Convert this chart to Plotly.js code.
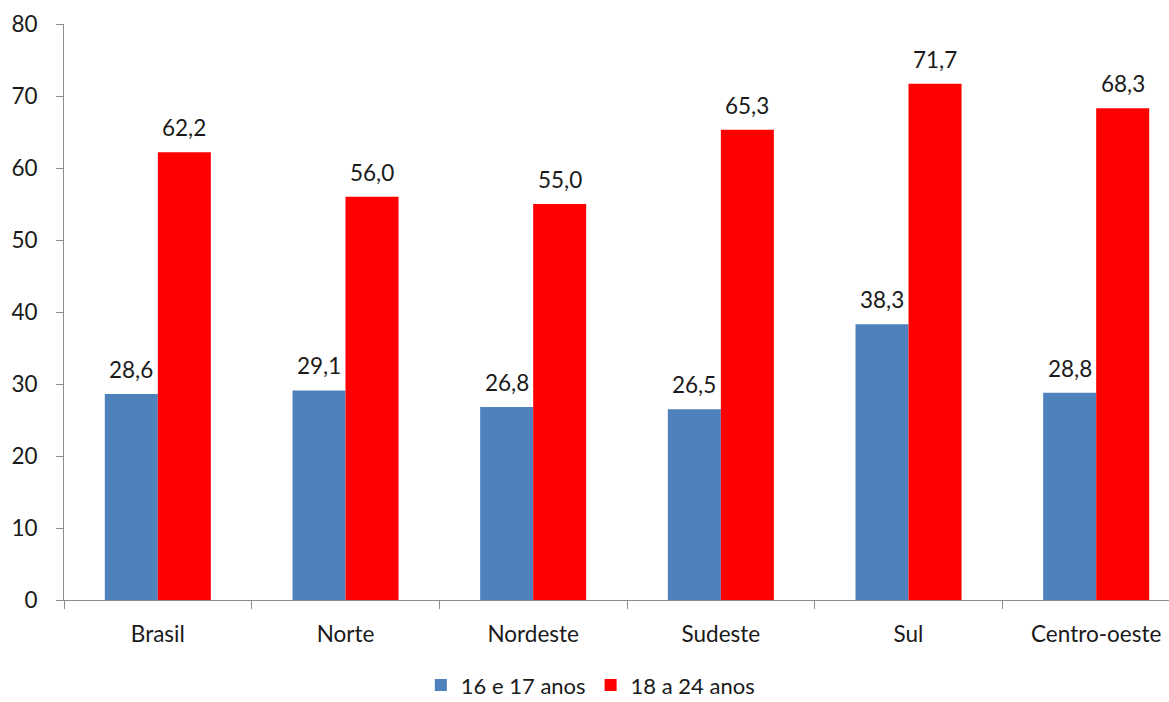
<!DOCTYPE html>
<html>
<head>
<meta charset="utf-8">
<script src="https://cdn.plot.ly/plotly-3.0.1.min.js"></script>
<style>html,body{margin:0;padding:0;background:#fff;}#chart{width:1169px;height:702px;}</style>
</head>
<body>
<div id="chart"></div>
<script>
const categories = ["Brasil", "Norte", "Nordeste", "Sudeste", "Sul", "Centro-oeste"];
const series16a17 = [28.6, 29.1, 26.8, 26.5, 38.3, 28.8];
const series18a24 = [62.2, 56.0, 55.0, 65.3, 71.7, 68.3];
const seriesNames = ["16 e 17 anos", "18 a 24 anos"];
const yTicks = [0, 10, 20, 30, 40, 50, 60, 70, 80];

const FONT = "Lato, 'Open Sans', sans-serif";
const FS = 22.5;
const colors = ["#4F81BD", "#FF0000"];

const traces = [series16a17, series18a24].map((vals, i) => ({
  type: "bar",
  name: seriesNames[i],
  x: categories,
  y: vals,
  marker: { color: colors[i], line: { width: 0 } },
  hoverinfo: "x+y"
}));

const fmt = v => v.toFixed(1).replace(".", ",");
const annotations = [];
[series16a17, series18a24].forEach((vals, i) => {
  vals.forEach((v, j) => {
    annotations.push({
      x: categories[j], y: v, xref: "x", yref: "y",
      text: fmt(v), showarrow: false,
      xanchor: "center", yanchor: "bottom",
      xshift: i === 0 ? -26.5 : 26.5, yshift: 9,
      font: { family: FONT, size: FS, color: "#1a1a1a" }
    });
  });
});

const layout = {
  width: 1169, height: 702,
  margin: { l: 64, r: 0, t: 24, b: 102 },
  paper_bgcolor: "#fff", plot_bgcolor: "#fff",
  barmode: "group", bargap: 0.435, bargroupgap: 0,
  separators: ",.",
  font: { family: FONT, size: FS, color: "#1a1a1a" },
  xaxis: {
    type: "category",
    range: [-0.5, 5.388],
    showline: true, linecolor: "#8c8c8c", linewidth: 1,
    ticks: "outside", tickson: "boundaries", ticklen: 8, tickcolor: "#8c8c8c",
    showgrid: false, zeroline: false,
    tickfont: { family: FONT, size: FS, color: "#1a1a1a" },
    ticklabelstandoff: 14
  },
  yaxis: {
    range: [0, 80], tickvals: yTicks,
    showline: true, linecolor: "#8c8c8c", linewidth: 1,
    ticks: "outside", ticklen: 7, tickcolor: "#8c8c8c",
    showgrid: false, zeroline: false,
    tickfont: { family: FONT, size: FS, color: "#1a1a1a" },
    ticklabelstandoff: 14
  },
  showlegend: true,
  legend: {
    orientation: "h", x: 0.505, xanchor: "center", xref: "container",
    y: 0.024, yanchor: "middle", yref: "container",
    font: { family: FONT, size: 22, color: "#1a1a1a" },
    itemwidth: 30, tracegroupgap: 0
  },
  annotations: annotations
};

Plotly.newPlot("chart", traces, layout, { displayModeBar: false, staticPlot: true });
</script>
</body>
</html>
